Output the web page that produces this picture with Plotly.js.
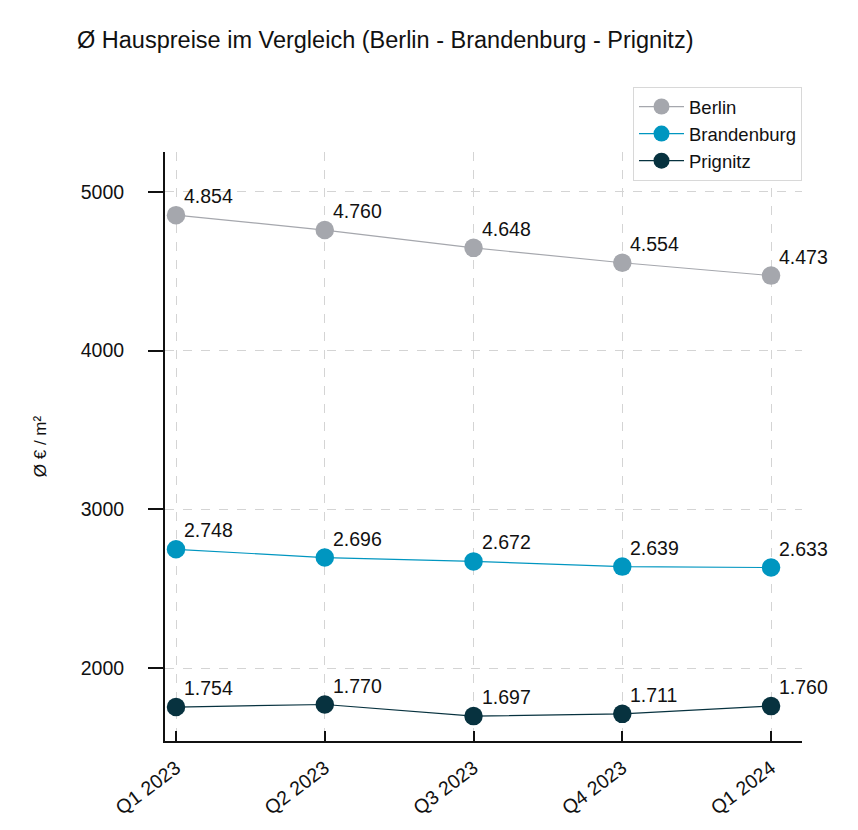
<!DOCTYPE html>
<html>
<head>
<meta charset="utf-8">
<script src="https://cdn.plot.ly/plotly-3.0.1.min.js"></script>
<style>html,body{margin:0;padding:0;background:#fff;}#chart{width:858px;height:830px;}</style>
</head>
<body>
<div id="chart"></div>
<script>
const quarters = ["Q1 2023", "Q2 2023", "Q3 2023", "Q4 2023", "Q1 2024"];
const berlin = [4854, 4760, 4648, 4554, 4473];
const brandenburg = [2748, 2696, 2672, 2639, 2633];
const prignitz = [1754, 1770, 1697, 1711, 1760];
const seriesNames = ["Berlin", "Brandenburg", "Prignitz"];
const colors = ["#A5A7AD", "#0096C0", "#07323F"];

const FONT = "Liberation Sans, Arial, sans-serif";
const allSeries = [berlin, brandenburg, prignitz];

const xIdx = quarters.map((q, i) => i);
const traces = allSeries.map((vals, s) => ({
  type: "scatter",
  mode: "lines+markers",
  name: seriesNames[s],
  x: xIdx,
  y: vals,
  line: {color: colors[s], width: 1.2},
  marker: {color: colors[s], size: 18.5},
  cliponaxis: false
}));

function fmt(v) {
  const s = String(v);
  return s.length > 3 ? s.slice(0, s.length - 3) + "." + s.slice(-3) : s;
}

const annotations = [];
allSeries.forEach((vals, s) => {
  vals.forEach((v, i) => {
    annotations.push({
      x: xIdx[i], y: v, xref: "x", yref: "y",
      text: fmt(v), showarrow: false,
      xanchor: "left", yanchor: "middle",
      xshift: 6, yshift: 19,
      font: {family: FONT, size: 19.5, color: "#111"}
    });
  });
});

const plotTop = 152, plotBottom = 741;
const layout = {
  width: 858, height: 830,
  margin: {l: 165, r: 56, t: plotTop, b: 830 - plotBottom},
  paper_bgcolor: "#fff", plot_bgcolor: "#fff",
  font: {family: FONT, color: "#111"},
  title: {text: "Ø Hauspreise im Vergleich (Berlin - Brandenburg - Prignitz)",
          x: 77/858, xanchor: "left", y: 1 - 40/830, yanchor: "middle",
          font: {family: FONT, size: 23.5, color: "#111"}},
  xaxis: {
    range: [-0.074, 4.208],
    tickmode: "array", tickvals: xIdx, ticktext: quarters,
    tickangle: -37,
    ticks: "inside", ticklen: 10, tickwidth: 2, tickcolor: "#111",
    ticklabelstandoff: 6,
    showline: true, linecolor: "#111", linewidth: 2,
    showgrid: true, gridcolor: "#d4d4d4", griddash: "dash", gridwidth: 1,
    zeroline: false,
    tickfont: {family: FONT, size: 19.5, color: "#111"}
  },
  yaxis: {
    range: [1540, 5252],
    tickvals: [2000, 3000, 4000, 5000],
    ticks: "outside", ticklen: 15, tickwidth: 2, tickcolor: "#111",
    ticklabelstandoff: 20,
    showline: true, linecolor: "#111", linewidth: 2,
    showgrid: true, gridcolor: "#d4d4d4", griddash: "dash", gridwidth: 1,
    zeroline: false,
    tickfont: {family: FONT, size: 19.5, color: "#111"},
    title: {text: "Ø € / m²", font: {family: FONT, size: 17, color: "#111"}, standoff: 30}
  },
  legend: {
    x: 1, xanchor: "right",
    y: (plotBottom - 87) / (plotBottom - plotTop), yanchor: "top",
    bgcolor: "#fff", bordercolor: "#d8d8d8", borderwidth: 1,
    font: {family: FONT, size: 18.5, color: "#111"},
    itemwidth: 45,
    tracegroupgap: 0
  },
  annotations: annotations,
  showlegend: true
};

Plotly.newPlot("chart", traces, layout, {displayModeBar: false, staticPlot: true});
</script>
</body>
</html>
